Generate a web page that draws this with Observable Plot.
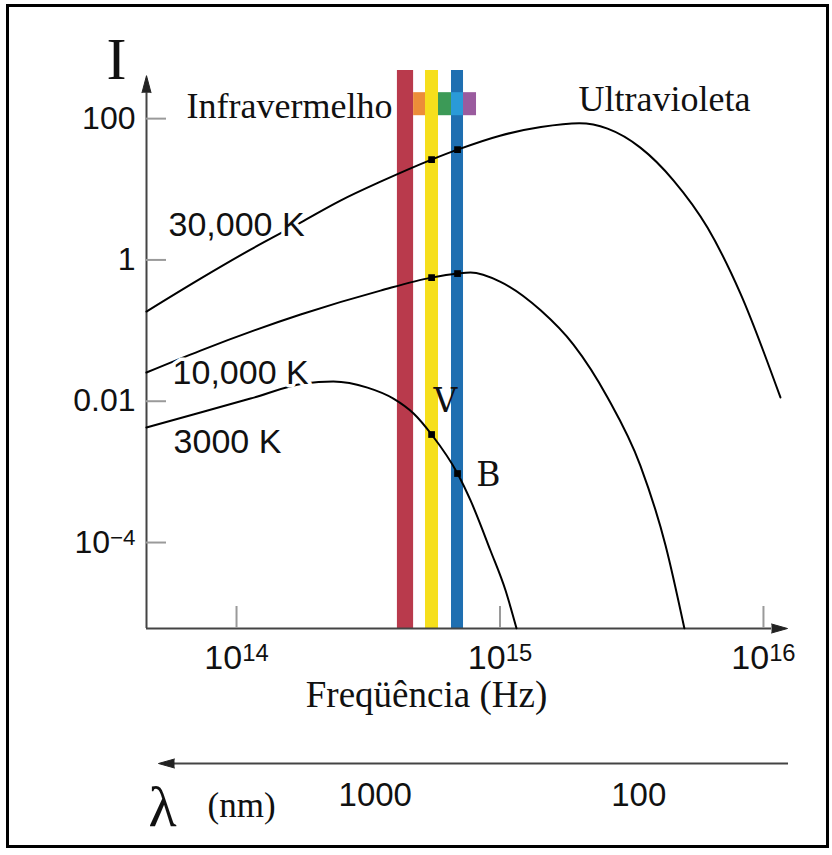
<!DOCTYPE html>
<html><head><meta charset="utf-8">
<script src="https://cdn.jsdelivr.net/npm/d3@7"></script>
<script src="https://cdn.jsdelivr.net/npm/@observablehq/plot@0.6"></script>
<style>
html,body{margin:0;padding:0;background:#fff;}
#wrap{position:relative;width:832px;height:855px;overflow:hidden;background:#fff;}
#frame{position:absolute;left:6px;top:4px;width:823px;height:844px;box-sizing:border-box;border:3px solid #000;pointer-events:none;}
</style></head>
<body><div id="wrap"><div id="frame"></div></div>
<script>
// ---- data (frequency in Hz, intensity in arbitrary units) ----
const seriesNames = ["30,000 K", "10,000 K", "3000 K"];
const freq30000 = [4.55e13, 7.30e13, 1.13e14, 1.75e14, 2.48e14, 3.52e14, 5.50e14, 6.90e14, 1.00e15, 1.43e15, 2.00e15, 2.56e15, 3.41e15, 4.56e15, 6.13e15, 8.18e15, 1.16e16];
const int30000  = [0.186, 0.544, 1.40, 3.38, 6.91, 12.8, 26.3, 36.4, 57.4, 76.0, 86.0, 72.2, 38.9, 13.3, 2.87, 0.334, 0.0113];
const freq10000 = [4.55e13, 7.30e13, 1.75e14, 3.52e14, 5.50e14, 6.90e14, 7.73e14, 1.00e15, 1.43e15, 1.90e15, 2.56e15, 3.41e15, 4.25e15, 5.01e15];
const int10000  = [0.0255, 0.0521, 0.169, 0.368, 0.562, 0.641, 0.662, 0.493, 0.192, 0.0633, 0.0113, 1.23e-3, 9.1e-5, 6.1e-6];
const freq3000  = [4.55e13, 7.30e13, 1.13e14, 1.80e14, 2.33e14, 3.14e14, 3.94e14, 4.70e14, 5.50e14, 6.90e14, 7.73e14, 9.20e14, 1.05e15, 1.155e15];
const int3000   = [4.25e-3, 6.92e-3, 0.0109, 0.0178, 0.0190, 0.0156, 0.0109, 6.70e-3, 3.38e-3, 9.48e-4, 3.94e-4, 7.71e-5, 2.09e-5, 6.1e-6];

// V and B filter points on each curve
const filterFreqs = [5.50e14, 6.90e14];
const filterInt = [[26.3, 36.4], [0.562, 0.641], [3.38e-3, 9.48e-4]];

// colour bands (vertical bars) and small spectrum chips
const bandLow   = [4.08e14, 5.215e14, 6.545e14];
const bandHigh  = [4.70e14, 5.843e14, 7.27e14];
const bandColor = ["#b93a4c", "#f6df1c", "#1f6fb1"];
const chipLow   = [4.70e14, 5.843e14, 6.545e14, 7.27e14];
const chipHigh  = [5.215e14, 6.545e14, 7.27e14, 8.145e14];
const chipColor = ["#ec8d38", "#3c9a57", "#2a9ad8", "#9a5b9e"];
const chipRange = [110, 233];

// axes
const xDomain = [4.553e13, 1.181e16];
const yDomain = [6.07e-6, 480];
const xTicks = [1e14, 1e15, 1e16];
const xTickLabels = ["10^14", "10^15", "10^16"];
const yTicks = [100, 1, 0.01, 1e-4];
const yTickLabels = ["100", "1", "0.01", "10^\u22124"];
const xAxisEnd = 1.073e16;
const yAxisTop = 233;

// wavelength axis (nm)
const lambdaTicks = [1000, 100];
const lambdaExtent = [5160, 24.1];
const c_nm = 3e17; // speed of light in nm/s

// text annotations
const curveLabels = [
  {text: "30,000 K", x: 5.52e13, y: 2.21},
  {text: "10,000 K", x: 5.72e13, y: 0.01774},
  {text: "3000 K",   x: 5.77e13, y: 1.873e-3}
];
const regionLabels = [
  {text: "Infravermelho", x: 6.46e13, y: 103},
  {text: "Ultravioleta",  x: 1.987e15, y: 130}
];
const filterLabels = [
  {text: "V", x: 6.21e14, y: 7.13e-3},
  {text: "B", x: 9.04e14, y: 6.38e-4}
];

// ---- build tables ----
const curves = [];
[[freq30000, int30000], [freq10000, int10000], [freq3000, int3000]].forEach(([f, v], s) => {
  f.forEach((x, i) => curves.push({series: seriesNames[s], x, y: v[i]}));
});
const dots = [];
filterInt.forEach((arr, s) => arr.forEach((y, i) => dots.push({series: seriesNames[s], x: filterFreqs[i], y})));
const bands = bandLow.map((lo, i) => ({lo, hi: bandHigh[i], color: bandColor[i]}));
const chips = chipLow.map((lo, i) => ({lo, hi: chipHigh[i], color: chipColor[i]}));

const serif = "Liberation Serif";
const sans = "Liberation Sans";
const axisColor = "#444";
const tickColor = "#9a9a9a";

const chart = Plot.plot({
  width: 832,
  height: 855,
  marginLeft: 146,
  marginRight: 50,
  marginTop: 70,
  marginBottom: 227,
  x: {type: "log", domain: xDomain},
  y: {type: "log", domain: yDomain},
  color: {type: "identity"},
  style: {background: "transparent", fontFamily: sans, color: "#111"},
  marks: [
    Plot.rect(bands, {x1: "lo", x2: "hi", y1: yDomain[0], y2: yDomain[1], fill: "color"}),
    Plot.rect(chips, {x1: "lo", x2: "hi", y1: chipRange[0], y2: chipRange[1], fill: "color"}),
    // axis lines + arrows
    Plot.ruleX([xDomain[0]], {y1: yDomain[0], y2: yAxisTop, stroke: axisColor, strokeWidth: 2}),
    Plot.ruleY([yDomain[0]], {x1: xDomain[0], x2: xAxisEnd, stroke: axisColor, strokeWidth: 2}),
    Plot.vector([{x: xDomain[0], y: yAxisTop}], {x: "x", y: "y", rotate: 0, length: 17, r: 4.5, shape: "spike", anchor: "start", fill: "#222", stroke: "#222", strokeWidth: 1}),
    Plot.vector([{x: xAxisEnd, y: yDomain[0]}], {x: "x", y: "y", rotate: 90, length: 16, r: 4.5, shape: "spike", anchor: "start", fill: "#222", stroke: "#222", strokeWidth: 1}),
    // axis ticks & labels
    Plot.axisY({ticks: yTicks, tickFormat: d => yTickLabels[yTicks.indexOf(d)], tickSize: -20, tickPadding: 31, stroke: tickColor, strokeWidth: 2, fill: "#111", fontSize: 32, label: null}),
    Plot.axisX({ticks: xTicks, tickFormat: d => xTickLabels[xTicks.indexOf(d)], tickSize: -22, tickPadding: 38, stroke: tickColor, strokeWidth: 2, fill: "#111", fontSize: 34, label: null}),
    // curves
    Plot.line(curves, {x: "x", y: "y", z: "series", curve: "monotone-x", stroke: "#000", strokeWidth: 2}),
    Plot.dot(dots, {x: "x", y: "y", symbol: "square", r: 3.8, fill: "#000"}),
    // labels
    Plot.text(curveLabels, {x: "x", y: "y", text: "text", textAnchor: "start", lineAnchor: "bottom", fontSize: 34, fontFamily: sans, fill: "#111", stroke: "white", strokeWidth: 7}),
    Plot.text(regionLabels, {x: "x", y: "y", text: "text", textAnchor: "start", lineAnchor: "bottom", fontSize: 36, fontFamily: serif, fill: "#111"}),
    Plot.text(filterLabels, {x: "x", y: "y", text: "text", textAnchor: "middle", lineAnchor: "bottom", fontSize: 33, fontFamily: "DejaVu Serif", fill: "#111"}),
    Plot.text(["I"], {frameAnchor: "top-left", dx: -30, dy: 8, lineAnchor: "bottom", textAnchor: "middle", fontSize: 60, fontFamily: serif, fill: "#111"}),
    Plot.text(["Freq\u00fc\u00eancia (Hz)"], {frameAnchor: "bottom", dx: -38, dy: 78, lineAnchor: "bottom", fontSize: 37, fontFamily: serif, fill: "#111"}),
    // wavelength axis
    Plot.ruleY([yDomain[0]], {x1: c_nm / lambdaExtent[0], x2: c_nm / lambdaExtent[1], dy: 135, stroke: axisColor, strokeWidth: 2}),
    Plot.vector([{x: c_nm / lambdaExtent[0], y: yDomain[0]}], {x: "x", y: "y", dy: 135, rotate: -90, length: 16, r: 4.5, shape: "spike", anchor: "start", fill: "#222", stroke: "#222", strokeWidth: 1}),
    Plot.text(lambdaTicks, {x: d => c_nm / d, text: d => String(d), frameAnchor: "bottom", dx: 13, dy: 177, lineAnchor: "bottom", fontSize: 33, fontFamily: sans, fill: "#111"}),
    Plot.text(["\u03bb"], {frameAnchor: "bottom-left", dx: 16, dy: 197, lineAnchor: "bottom", textAnchor: "middle", fontSize: 58, fontFamily: serif, fill: "#111"}),
    Plot.text(["(nm)"], {frameAnchor: "bottom-left", dx: 61, dy: 188, lineAnchor: "bottom", textAnchor: "start", fontSize: 35, fontFamily: serif, fill: "#111"})
  ]
});

// superscripts for tick labels written as "base^exp"
d3.select(chart).selectAll("text").each(function () {
  const t = this.textContent;
  const k = t.indexOf("^");
  if (k < 0) return;
  this.textContent = "";
  const s = d3.select(this);
  s.append("tspan").text(t.slice(0, k));
  s.append("tspan").style("font-size", "70%").attr("dy", "-0.33em").text(t.slice(k + 1));
});

document.getElementById("wrap").prepend(chart);
</script>
</body></html>
